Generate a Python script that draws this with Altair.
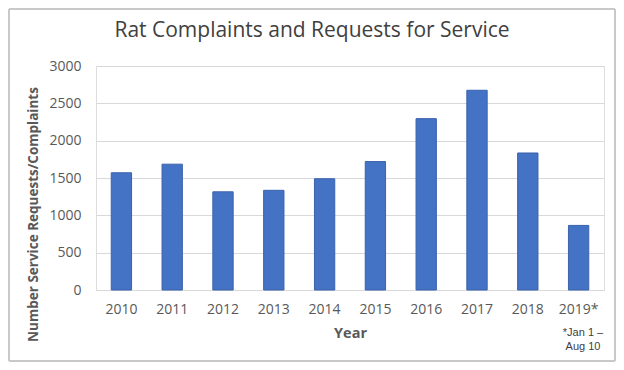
import altair as alt
import pandas as pd

years = ["2010", "2011", "2012", "2013", "2014", "2015", "2016", "2017", "2018", "2019*"]
counts = [1570, 1685, 1315, 1335, 1490, 1720, 2295, 2675, 1835, 865]
title_text = ["Rat Complaints and Requests for Service"]
note_lines = ["*Jan 1 –", "Aug 10"]

df = pd.DataFrame({"Year": years, "Count": counts})
W, H = 508, 224

bars = alt.Chart(df).mark_bar(color="#4472C4", stroke="#3A62AC", strokeWidth=1).encode(
    x=alt.X("Year:N", sort=years, scale=alt.Scale(paddingInner=0.6, paddingOuter=0.3),
            axis=alt.Axis(title="Year", labelAngle=0, labelFontSize=14, labelColor="#595959",
                          labelFont="Open Sans", labelPadding=12, ticks=False,
                          domainColor="#d9d9d9", titleFontSize=14.5, titleFont="Open Sans",
                          titleFontWeight="bold", titleColor="#595959", titlePadding=10)),
    y=alt.Y("Count:Q", scale=alt.Scale(domain=[0, 3000]),
            axis=alt.Axis(title="Number Service Requests/Complaints",
                          values=[0, 500, 1000, 1500, 2000, 2500, 3000], format="d",
                          labelFontSize=14, labelColor="#595959", labelFont="Open Sans",
                          domain=False, ticks=False, labelPadding=15, gridColor="#d9d9d9",
                          titleFontSize=13.5, titleFont="Open Sans", titleFontWeight="bold",
                          titleColor="#595959", titleX=-63, titleY=148, titleAlign="center",
                          titleBaseline="middle")),
)

frame = alt.Chart(df).mark_rect(fill=None, stroke="#c8c8c8", strokeWidth=1).encode(
    x=alt.value(-87), x2=alt.value(519), y=alt.value(-57), y2=alt.value(295)
)

title = alt.Chart(pd.DataFrame({"t": title_text})).mark_text(
    font="Open Sans", fontSize=21, color="#404040", align="center", baseline="middle"
).encode(text="t:N", x=alt.value(216), y=alt.value(-35))

note1 = alt.Chart(pd.DataFrame({"t": note_lines[:1]})).mark_text(
    font="Liberation Sans", fontSize=11, color="#404040", align="center", baseline="middle"
).encode(text="t:N", x=alt.value(487), y=alt.value(267))

note2 = alt.Chart(pd.DataFrame({"t": note_lines[1:]})).mark_text(
    font="Liberation Sans", fontSize=11, color="#404040", align="center", baseline="middle"
).encode(text="t:N", x=alt.value(487), y=alt.value(281))

chart = alt.layer(frame, bars, title, note1, note2).properties(
    width=W, height=H,
    autosize=alt.AutoSizeParams(type="none"),
    padding={"left": 88, "top": 58, "right": 12, "bottom": 72},
).configure_view(stroke=None).configure(background="white")

chart.save("out.html", embed_options={"renderer": "svg", "actions": False})
